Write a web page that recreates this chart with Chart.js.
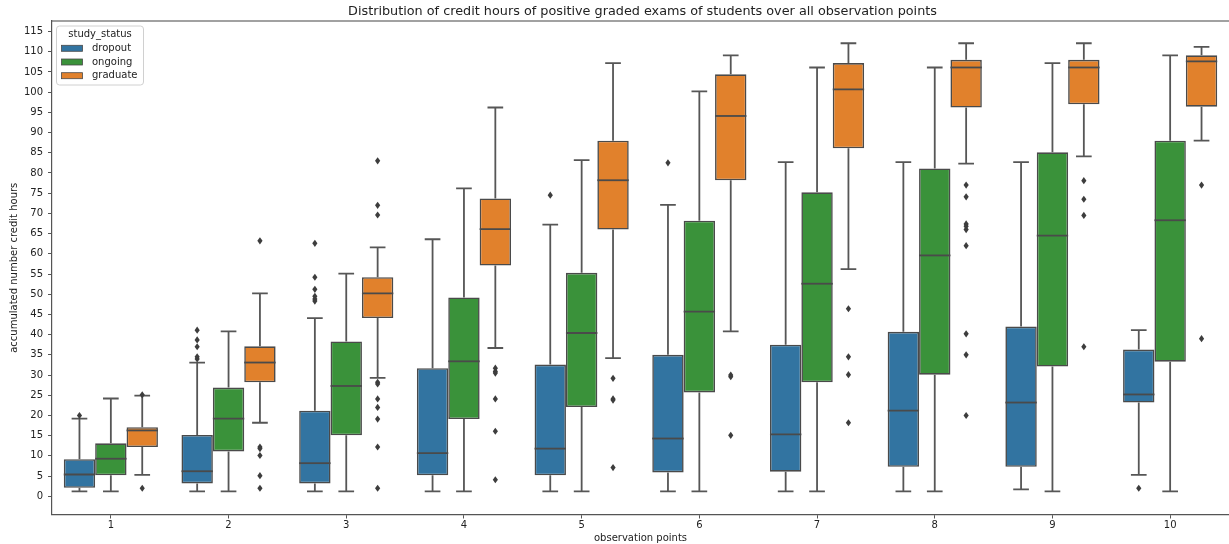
<!DOCTYPE html>
<html>
<head>
<meta charset="utf-8">
<script src="https://cdn.jsdelivr.net/npm/chart.js@4"></script>
<style>
  body { margin: 0; background: #fff; }
</style>
</head>
<body>
<canvas id="boxchart" width="1229" height="544"></canvas>
<script>
const ctx = document.getElementById('boxchart').getContext('2d');

// observation points on the x axis
const categories = ['1', '2', '3', '4', '5', '6', '7', '8', '9', '10'];
const yTicks = [0, 5, 10, 15, 20, 25, 30, 35, 40, 45, 50, 55, 60, 65, 70, 75, 80, 85, 90, 95, 100, 105, 110, 115];

// dropout
const dropoutLow = [1.2, 1.2, 1.2, 1.2, 1.2, 1.2, 1.2, 1.2, 1.7, 5.3];
const dropoutQ1 = [2.1, 3.2, 3.2, 5.2, 5.2, 5.9, 6.1, 7.3, 7.3, 23.2];
const dropoutMedian = [5.4, 6.2, 8.2, 10.7, 11.8, 14.3, 15.3, 21.2, 23.2, 25.2];
const dropoutQ3 = [9.2, 15.2, 21.2, 31.7, 32.6, 35.0, 37.5, 40.7, 42.0, 36.3];
const dropoutHigh = [19.2, 33.1, 44.1, 63.6, 67.2, 72.1, 82.7, 82.7, 82.7, 41.1];
const dropoutOutliers = [[20], [34, 34.5, 37, 38.7, 41.1], [48.3, 48.8, 49.5, 51.2, 54.2, 62.6], [], [74.5], [82.5], [], [], [], [2.0]];

// ongoing
const ongoingLow = [1.2, 1.2, 1.2, 1.2, 1.2, 1.2, 1.2, 1.2, 1.2, 1.2];
const ongoingQ1 = [5.2, 11.1, 15.1, 19.1, 22.1, 25.7, 28.2, 30.1, 32.1, 33.3];
const ongoingMedian = [9.3, 19.2, 27.3, 33.4, 40.4, 45.7, 52.6, 59.6, 64.5, 68.3];
const ongoingQ3 = [13.1, 26.9, 38.3, 49.2, 55.3, 68.2, 75.2, 81.1, 85.1, 88.0];
const ongoingHigh = [24.2, 40.8, 55.1, 76.2, 83.2, 100.2, 106.1, 106.1, 107.2, 109.1];
const ongoingOutliers = [[], [], [], [], [], [], [], [], [], []];

// graduate
const graduateLow = [5.3, 18.2, 29.3, 36.7, 34.2, 40.8, 56.2, 82.3, 84.1, 88.0];
const graduateQ1 = [12.2, 28.2, 44.1, 57.1, 66.0, 78.2, 86.1, 96.2, 97.0, 96.4];
const graduateMedian = [16.3, 33.1, 50.2, 66.1, 78.2, 94.1, 100.7, 106.1, 106.1, 107.6];
const graduateQ3 = [17.1, 37.1, 54.2, 73.7, 88.0, 104.4, 107.2, 108.0, 108.0, 109.1];
const graduateHigh = [24.9, 50.2, 61.6, 96.2, 107.2, 109.1, 112.1, 112.1, 112.1, 111.2];
const graduateOutliers = [[25.1, 2.0], [63.2, 12.2, 11.8, 10.1, 5.1, 2.0],
    [83.0, 72.0, 69.6, 28.2, 27.8, 24.1, 22.0, 19.1, 12.2, 2.0], [31.7, 30.9, 30.5, 24.1, 16.1, 4.1],
    [29.2, 24.1, 23.8, 7.1], [30.0, 29.6, 15.1], [46.4, 34.5, 30.1, 18.2],
    [77.0, 74.1, 67.4, 66.8, 66.0, 62.0, 40.2, 35.0, 20.0], [78.1, 73.5, 69.5, 37.0], [77.0, 39.0]];

const lineColor = '#4a4a4a';
const whiskerColor = '#565656';
const font = 'DejaVu Sans';

// extra box parts per dataset (same order as datasets)
const boxStats = [
    { low: dropoutLow, median: dropoutMedian, high: dropoutHigh, q1: dropoutQ1, q3: dropoutQ3, outliers: dropoutOutliers },
    { low: ongoingLow, median: ongoingMedian, high: ongoingHigh, q1: ongoingQ1, q3: ongoingQ3, outliers: ongoingOutliers },
    { low: graduateLow, median: graduateMedian, high: graduateHigh, q1: graduateQ1, q3: graduateQ3, outliers: graduateOutliers },
];

function boxData(q1, q3) {
    return q1.map((v, i) => [v, q3[i]]);
}

// whiskers, caps, medians, outliers, title, top spine and legend
const boxPlugin = {
    id: 'boxParts',
    afterDatasetsDraw(chart) {
        const c = chart.ctx;
        const y = chart.scales.y;
        const area = chart.chartArea;
        c.save();
        c.lineWidth = 1.8;
        boxStats.forEach((s, di) => {
            const meta = chart.getDatasetMeta(di);
            meta.data.forEach((bar, i) => {
                const x = bar.x;
                const w = bar.width;
                const capW = w * 0.5;
                const yLow = y.getPixelForValue(s.low[i]);
                const yHigh = y.getPixelForValue(s.high[i]);
                const yQ1 = y.getPixelForValue(s.q1[i]);
                const yQ3 = y.getPixelForValue(s.q3[i]);
                const yMed = y.getPixelForValue(s.median[i]);
                c.strokeStyle = whiskerColor;
                c.beginPath();
                c.moveTo(x, yQ1); c.lineTo(x, yLow);
                c.moveTo(x, yQ3); c.lineTo(x, yHigh);
                c.moveTo(x - capW / 2, yLow); c.lineTo(x + capW / 2, yLow);
                c.moveTo(x - capW / 2, yHigh); c.lineTo(x + capW / 2, yHigh);
                c.stroke();
                c.strokeStyle = lineColor;
                c.beginPath();
                c.moveTo(x - w / 2, yMed); c.lineTo(x + w / 2, yMed);
                c.stroke();
                c.fillStyle = '#3d3d3d';
                s.outliers[i].forEach(v => {
                    const py = y.getPixelForValue(v);
                    c.beginPath();
                    c.moveTo(x, py - 3.6);
                    c.lineTo(x + 2.6, py);
                    c.lineTo(x, py + 3.6);
                    c.lineTo(x - 2.6, py);
                    c.closePath();
                    c.fill();
                });
            });
        });

        // top spine
        c.strokeStyle = '#444';
        c.lineWidth = 1.2;
        c.beginPath();
        c.moveTo(area.left, area.top);
        c.lineTo(area.right, area.top);
        c.stroke();

        // title
        c.fillStyle = '#222';
        c.font = '12.8px ' + font;
        c.textAlign = 'center';
        c.textBaseline = 'middle';
        c.fillText('Distribution of credit hours of positive graded exams of students over all observation points',
            (area.left + area.right) / 2 + 2, 12);

        // legend
        const lx = area.left + 4.5, ly = area.top + 5, lw = 87, lh = 59;
        c.fillStyle = 'rgba(255,255,255,0.8)';
        c.strokeStyle = '#d0d0d0';
        c.lineWidth = 1;
        c.beginPath();
        c.roundRect(lx, ly, lw, lh, 3);
        c.fill();
        c.stroke();
        c.fillStyle = '#222';
        c.font = '10px ' + font;
        c.fillText('study_status', lx + lw / 2, ly + 8.7);
        c.textAlign = 'left';
        chart.data.datasets.forEach((ds, i) => {
            const ry = ly + 22.3 + i * 13.7;
            c.fillStyle = ds.backgroundColor;
            c.fillRect(lx + 5, ry - 3, 21, 6);
            c.strokeStyle = lineColor;
            c.lineWidth = 0.8;
            c.strokeRect(lx + 5, ry - 3, 21, 6);
            c.fillStyle = '#222';
            c.fillText(ds.label, lx + 35.5, ry);
        });
        c.restore();
    }
};

const barDefaults = {
    borderColor: lineColor,
    borderWidth: 1.6,
    borderSkipped: false,
    categoryPercentage: 0.8,
    barPercentage: 1.0,
};

const boxchart = new Chart(ctx, {
    type: 'bar',
    data: {
        labels: categories,
        datasets: [
            { label: 'dropout', data: boxData(dropoutQ1, dropoutQ3), backgroundColor: '#3274a1', ...barDefaults },
            { label: 'ongoing', data: boxData(ongoingQ1, ongoingQ3), backgroundColor: '#3a923a', ...barDefaults },
            { label: 'graduate', data: boxData(graduateQ1, graduateQ3), backgroundColor: '#e1812c', ...barDefaults },
        ]
    },
    options: {
        responsive: false,
        animation: false,
        layout: { padding: { top: 21, left: 0, right: 0, bottom: 0 } },
        plugins: {
            legend: { display: false },
            tooltip: { enabled: false },
        },
        scales: {
            x: {
                afterFit: s => { s.height = 29.5; },
                grid: { display: true, drawOnChartArea: false, offset: false, tickLength: 4, color: '#555' },
                border: { display: true, color: '#555', width: 1.2 },
                ticks: { padding: 1, color: '#222', font: { family: font, size: 10 } },
                title: { display: true, text: 'observation points', color: '#222', padding: 0, font: { family: font, size: 10 } },
            },
            y: {
                min: -4.5,
                max: 117.6,
                afterFit: s => { s.width = 52; },
                afterBuildTicks: s => { s.ticks = yTicks.map(v => ({ value: v })); },
                grid: { display: true, drawOnChartArea: false, tickLength: 4, color: '#555' },
                border: { display: true, color: '#555', width: 1.2 },
                ticks: { padding: 5, color: '#222', font: { family: font, size: 10 } },
                title: { display: true, text: 'accumulated number credit hours', color: '#222', padding: { top: 8, bottom: 0 }, font: { family: font, size: 10 } },
            }
        }
    },
    plugins: [boxPlugin]
});
</script>
</body>
</html>
